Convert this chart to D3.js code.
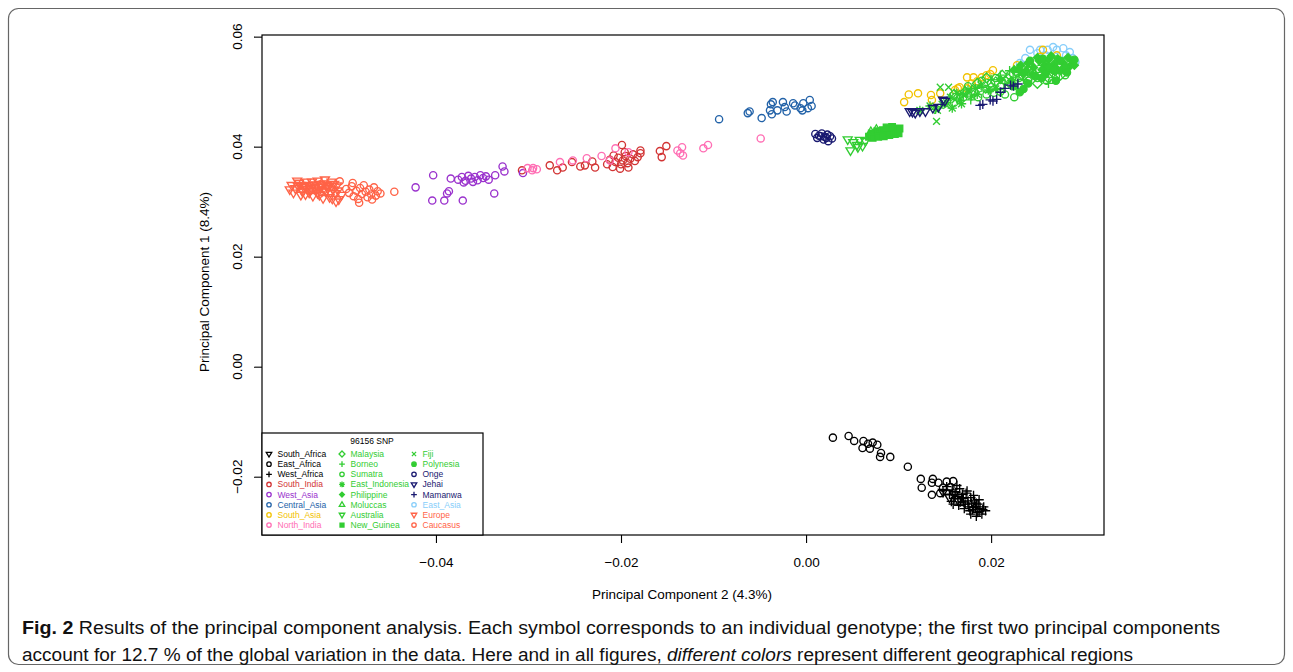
<!DOCTYPE html>
<html>
<head>
<meta charset="utf-8">
<script src="https://cdn.jsdelivr.net/npm/d3@7"></script>
<style>
  body { margin: 0; background: #fff; }
  svg text { font-family: "Liberation Sans", Arial, sans-serif; }
</style>
</head>
<body>
<div id="chart"></div>
<script>
// PC2 (x), PC1 (y) scores, one array per population
const southAfrica = [[0.0148,-0.0228],[0.0155,-0.0238],[0.0160,-0.0232],[0.0165,-0.0245]];
const eastAfrica = [[0.0029,-0.0129],[0.0046,-0.0126],[0.0052,-0.0135],[0.0062,-0.0135],[0.0061,-0.0148],[0.0067,-0.0140],
  [0.0069,-0.0149],[0.0072,-0.0138],[0.0077,-0.0142],[0.0081,-0.0157],[0.0080,-0.0164],[0.0091,-0.0164],[0.0110,-0.0182],
  [0.0124,-0.0204],[0.0125,-0.0220],[0.0136,-0.0211],[0.0136,-0.0233],[0.0137,-0.0204],[0.0143,-0.0211],[0.0152,-0.0209],
  [0.0159,-0.0208],[0.0148,-0.0220],[0.0145,-0.0230],[0.0156,-0.0219]];
const westAfrica = [[0.0148,-0.0225],[0.0152,-0.0218],[0.0155,-0.0232],[0.0158,-0.0224],[0.0160,-0.0240],[0.0162,-0.0228],
  [0.0164,-0.0236],[0.0166,-0.0222],[0.0167,-0.0246],[0.0169,-0.0232],[0.0170,-0.0240],[0.0172,-0.0250],[0.0173,-0.0230],
  [0.0175,-0.0244],[0.0176,-0.0255],[0.0178,-0.0238],[0.0179,-0.0248],[0.0180,-0.0260],[0.0182,-0.0244],[0.0183,-0.0254],
  [0.0185,-0.0265],[0.0186,-0.0250],[0.0188,-0.0258],[0.0190,-0.0268],[0.0192,-0.0255],[0.0194,-0.0262],[0.0165,-0.0252],
  [0.0171,-0.0258],[0.0177,-0.0262],[0.0184,-0.0272],[0.0157,-0.0245],[0.0163,-0.0216],[0.0174,-0.0226],[0.0181,-0.0234],
  [0.0187,-0.0242],[0.0161,-0.0233],[0.0168,-0.0238],[0.0175,-0.0250],[0.0181,-0.0256],[0.0187,-0.0263],[0.0191,-0.0260],
  [0.0178,-0.0268],[0.0170,-0.0246],[0.0159,-0.0250],[0.0184,-0.0248]];
const southIndia = [[-0.0307,0.0357],[-0.0277,0.0366],[-0.0269,0.0357],[-0.0263,0.0362],[-0.0253,0.0372],[-0.0244,0.0364],
  [-0.0231,0.0373],[-0.0228,0.0362],[-0.0239,0.0366],[-0.0215,0.0368],[-0.0212,0.0376],[-0.0209,0.0363],[-0.0206,0.0372],
  [-0.0203,0.0380],[-0.0200,0.0368],[-0.0198,0.0375],[-0.0195,0.0383],[-0.0193,0.0370],[-0.0190,0.0378],[-0.0187,0.0386],
  [-0.0185,0.0374],[-0.0182,0.0381],[-0.0179,0.0388],[-0.0201,0.0360],[-0.0192,0.0362],[-0.0208,0.0384],[-0.0196,0.0390],
  [-0.0199,0.0403],[-0.0179,0.0393],[-0.0158,0.0392],[-0.0151,0.0401],[-0.0156,0.0381]];
const westAsia = [[-0.0422,0.0326],[-0.0403,0.0348],[-0.0384,0.0342],[-0.0404,0.0302],[-0.0391,0.0302],[-0.0388,0.0315],
  [-0.0386,0.0319],[-0.0371,0.0302],[-0.0337,0.0315],[-0.0328,0.0364],[-0.0326,0.0355],[-0.0336,0.0348],[-0.0306,0.0352],
  [-0.0376,0.0340],[-0.0372,0.0345],[-0.0368,0.0338],[-0.0365,0.0347],[-0.0362,0.0342],[-0.0358,0.0345],[-0.0355,0.0339],
  [-0.0352,0.0348],[-0.0349,0.0343],[-0.0346,0.0346],[-0.0343,0.0340],[-0.0370,0.0335],[-0.0360,0.0336]];
const centralAsia = [[-0.0094,0.0450],[-0.0063,0.0461],[-0.0061,0.0464],[-0.0048,0.0452],[-0.0039,0.0466],[-0.0038,0.0477],
  [-0.0031,0.0466],[-0.0025,0.0481],[-0.0023,0.0472],[-0.0021,0.0464],[-0.0014,0.0479],[-0.0012,0.0475],[-0.0006,0.0470],
  [-0.0004,0.0466],[-0.0003,0.0479],[0.0004,0.0485],[0.0006,0.0474],[0.0002,0.0470],[-0.0036,0.0481],[-0.0037,0.0459]];
const southAsia = [[0.0106,0.0481],[0.0111,0.0495],[0.0121,0.0497],[0.0135,0.0494],[0.0136,0.0485],[0.0145,0.0497],
  [0.0164,0.0506],[0.0166,0.0508],[0.0174,0.0506],[0.0179,0.0515],[0.0185,0.0519],[0.0190,0.0526],[0.0195,0.0530],
  [0.0199,0.0532],[0.0202,0.0539],[0.0228,0.0548],[0.0253,0.0563],[0.0256,0.0576],[0.0271,0.0566],[0.0181,0.0526],
  [0.0174,0.0526],[0.0161,0.0503]];
const northIndia = [[-0.0301,0.0361],[-0.0295,0.0361],[-0.0291,0.0359],[-0.0296,0.0357],[-0.0266,0.0372],[-0.0252,0.0375],
  [-0.0237,0.0379],[-0.0221,0.0383],[-0.0206,0.0397],[-0.0139,0.0393],[-0.0134,0.0399],[-0.0136,0.0388],[-0.0133,0.0384],
  [-0.0111,0.0397],[-0.0106,0.0403],[-0.0049,0.0415],[-0.0212,0.0375],[-0.0192,0.0390]];
const malaysia = [[0.0185,0.0515],[0.0195,0.0525],[0.0205,0.0518],[0.0212,0.0530],[0.0218,0.0524],[0.0228,0.0535],
  [0.0235,0.0528],[0.0240,0.0540],[0.0200,0.0508],[0.0222,0.0512],[0.0250,0.0515],[0.0262,0.0525],[0.0275,0.0530],
  [0.0160,0.0495],[0.0172,0.0500]];
const borneo = [[0.0190,0.0508],[0.0200,0.0522],[0.0210,0.0530],[0.0220,0.0538],[0.0230,0.0530],[0.0240,0.0545],
  [0.0248,0.0535],[0.0255,0.0548],[0.0215,0.0515],[0.0235,0.0522],[0.0170,0.0495],[0.0178,0.0485],[0.0262,0.0515],
  [0.0280,0.0540]];
const sumatra = [[0.0175,0.0510],[0.0182,0.0500],[0.0190,0.0520],[0.0195,0.0505],[0.0200,0.0515],[0.0205,0.0525],
  [0.0210,0.0510],[0.0215,0.0520],[0.0220,0.0530],[0.0186,0.0490],[0.0203,0.0498],[0.0225,0.0520],[0.0230,0.0525],
  [0.0240,0.0520],[0.0250,0.0525],[0.0260,0.0520],[0.0270,0.0528],[0.0280,0.0530],[0.0245,0.0535],[0.0265,0.0532],
  [0.0210,0.0500],[0.0195,0.0495],[0.0170,0.0490],[0.0160,0.0480],[0.0215,0.0495],[0.0225,0.0490]];
const eastIndonesia = [[0.0134,0.0474],[0.0147,0.0477],[0.0156,0.0490],[0.0163,0.0497],[0.0170,0.0494],[0.0175,0.0503],
  [0.0183,0.0506],[0.0189,0.0512],[0.0166,0.0485],[0.0179,0.0492],[0.0197,0.0503],[0.0123,0.0466],[0.0140,0.0468],
  [0.0152,0.0480],[0.0158,0.0470],[0.0168,0.0478],[0.0185,0.0495],[0.0205,0.0505]];
const philippine = [[0.0225,0.0540],[0.0232,0.0548],[0.0240,0.0552],[0.0246,0.0544],[0.0252,0.0556],[0.0258,0.0548],
  [0.0262,0.0558],[0.0268,0.0550],[0.0272,0.0560],[0.0278,0.0552],[0.0283,0.0562],[0.0288,0.0555],[0.0238,0.0538],
  [0.0255,0.0540],[0.0270,0.0543],[0.0285,0.0546],[0.0250,0.0562],[0.0265,0.0565],[0.0245,0.0530],[0.0260,0.0535],
  [0.0258,0.0530],[0.0275,0.0538],[0.0290,0.0548],[0.0235,0.0532],[0.0222,0.0520],[0.0210,0.0522]];
const moluccas = [[0.0070,0.0427],[0.0076,0.0431]];
const australia = [[0.0045,0.0413],[0.0048,0.0393],[0.0055,0.0403],[0.0058,0.0412],[0.0064,0.0410],[0.0056,0.0399],
  [0.0051,0.0408],[0.0061,0.0401]];
const newGuinea = [[0.0068,0.0418],[0.0071,0.0424],[0.0074,0.0420],[0.0077,0.0428],[0.0080,0.0422],[0.0083,0.0430],
  [0.0086,0.0425],[0.0089,0.0431],[0.0092,0.0426],[0.0095,0.0432],[0.0098,0.0428],[0.0101,0.0433],[0.0072,0.0416],
  [0.0078,0.0418],[0.0084,0.0419],[0.0090,0.0421],[0.0096,0.0423],[0.0100,0.0424],[0.0087,0.0435],[0.0093,0.0436]];
const fiji = [[0.0145,0.0508],[0.0154,0.0508],[0.0142,0.0466],[0.0152,0.0475],[0.0141,0.0446],[0.0161,0.0485],[0.0172,0.0494]];
const polynesia = [[0.0230,0.0540],[0.0242,0.0556],[0.0256,0.0560],[0.0262,0.0545],[0.0275,0.0556],[0.0280,0.0545],
  [0.0290,0.0558],[0.0248,0.0528],[0.0268,0.0538],[0.0235,0.0505],[0.0231,0.0499],[0.0255,0.0525],[0.0270,0.0520],
  [0.0282,0.0535],[0.0240,0.0515],[0.0225,0.0510]];
const onge = [[0.0010,0.0423],[0.0014,0.0420],[0.0017,0.0424],[0.0020,0.0418],[0.0023,0.0422],[0.0026,0.0419],
  [0.0012,0.0416],[0.0019,0.0413],[0.0024,0.0410],[0.0028,0.0415],[0.0016,0.0419],[0.0022,0.0416]];
const jehai = [[0.0115,0.0463],[0.0118,0.0461],[0.0123,0.0464],[0.0129,0.0464],[0.0137,0.0470],[0.0143,0.0472],
  [0.0148,0.0485],[0.0150,0.0483],[0.0112,0.0464]];
const mamanwa = [[0.0188,0.0475],[0.0191,0.0477],[0.0199,0.0485],[0.0202,0.0483],[0.0206,0.0486],[0.0210,0.0499],
  [0.0215,0.0506],[0.0221,0.0512],[0.0224,0.0510],[0.0229,0.0514]];
const eastAsia = [[0.0237,0.0561],[0.0242,0.0576],[0.0253,0.0576],[0.0261,0.0576],[0.0271,0.0576],[0.0278,0.0579],
  [0.0285,0.0572],[0.0291,0.0554],[0.0288,0.0561],[0.0267,0.0581],[0.0250,0.0570],[0.0231,0.0552],[0.0281,0.0566],
  [0.0259,0.0566]];
const europe = [[-0.0556,0.0330],[-0.0552,0.0324],[-0.0548,0.0334],[-0.0545,0.0320],[-0.0542,0.0328],[-0.0540,0.0336],
  [-0.0537,0.0316],[-0.0535,0.0325],[-0.0532,0.0331],[-0.0530,0.0320],[-0.0528,0.0338],[-0.0526,0.0312],[-0.0524,0.0327],
  [-0.0521,0.0333],[-0.0519,0.0318],[-0.0517,0.0324],[-0.0515,0.0308],[-0.0513,0.0336],[-0.0511,0.0322],[-0.0509,0.0315],
  [-0.0507,0.0329],[-0.0505,0.0304],[-0.0554,0.0316],[-0.0550,0.0338],[-0.0546,0.0312],[-0.0538,0.0330],[-0.0533,0.0310],
  [-0.0527,0.0322],[-0.0522,0.0306],[-0.0518,0.0330],[-0.0514,0.0316],[-0.0510,0.0332],[-0.0506,0.0320],[-0.0502,0.0312],
  [-0.0543,0.0326],[-0.0536,0.0320],[-0.0529,0.0329],[-0.0523,0.0319],[-0.0516,0.0327],[-0.0508,0.0300],[-0.0558,0.0322],
  [-0.0549,0.0328],[-0.0534,0.0336],[-0.0520,0.0340],[-0.0512,0.0305],[-0.0544,0.0318],[-0.0539,0.0323],[-0.0531,0.0326],
  [-0.0525,0.0332],[-0.0520,0.0322],[-0.0513,0.0328],[-0.0541,0.0313],[-0.0528,0.0315],[-0.0547,0.0330]];
const caucasus = [[-0.0504,0.0337],[-0.0497,0.0323],[-0.0494,0.0316],[-0.0491,0.0328],[-0.0489,0.0310],[-0.0486,0.0320],
  [-0.0484,0.0305],[-0.0482,0.0325],[-0.0480,0.0314],[-0.0478,0.0330],[-0.0476,0.0318],[-0.0474,0.0308],[-0.0472,0.0322],
  [-0.0470,0.0313],[-0.0467,0.0326],[-0.0465,0.0311],[-0.0463,0.0319],[-0.0460,0.0315],[-0.0483,0.0298],[-0.0445,0.0318],
  [-0.0490,0.0334],[-0.0469,0.0304]];

const xTicks = [-0.04, -0.02, 0.00, 0.02];
const yTicks = [-0.02, 0.00, 0.02, 0.04, 0.06];

// legend order (3 columns of 8), colour and symbol per population
const groups = [
  {name: "South_Africa", color: "#000000", shape: "triDown", pts: southAfrica},
  {name: "East_Africa", color: "#000000", shape: "circle", pts: eastAfrica},
  {name: "West_Africa", color: "#000000", shape: "plus", pts: westAfrica},
  {name: "South_India", color: "#d23434", shape: "circle", pts: southIndia},
  {name: "West_Asia", color: "#9a32cd", shape: "circle", pts: westAsia},
  {name: "Central_Asia", color: "#2262a8", shape: "circle", pts: centralAsia},
  {name: "South_Asia", color: "#f2c200", shape: "circle", pts: southAsia},
  {name: "North_India", color: "#ff6eb4", shape: "circle", pts: northIndia},
  {name: "Malaysia", color: "#32cd32", shape: "diamond", pts: malaysia},
  {name: "Borneo", color: "#32cd32", shape: "plus", pts: borneo},
  {name: "Sumatra", color: "#32cd32", shape: "circle", pts: sumatra},
  {name: "East_Indonesia", color: "#32cd32", shape: "asterisk", pts: eastIndonesia},
  {name: "Philippine", color: "#32cd32", shape: "fdiamond", pts: philippine},
  {name: "Moluccas", color: "#32cd32", shape: "triUp", pts: moluccas},
  {name: "Australia", color: "#32cd32", shape: "triDown", pts: australia},
  {name: "New_Guinea", color: "#32cd32", shape: "square", pts: newGuinea},
  {name: "Fiji", color: "#32cd32", shape: "x", pts: fiji},
  {name: "Polynesia", color: "#32cd32", shape: "dot", pts: polynesia},
  {name: "Onge", color: "#191970", shape: "circle", pts: onge},
  {name: "Jehai", color: "#191970", shape: "triDown", pts: jehai},
  {name: "Mamanwa", color: "#191970", shape: "plus", pts: mamanwa},
  {name: "East_Asia", color: "#87cefa", shape: "circle", pts: eastAsia},
  {name: "Europe", color: "#ff6347", shape: "triDown", pts: europe},
  {name: "Caucasus", color: "#ff6347", shape: "circle", pts: caucasus}
];

const W = 1293, H = 672;
const plot = {left: 262, right: 1104, top: 35, bottom: 535};

const svg = d3.select("#chart").append("svg")
  .attr("width", W).attr("height", H);

// outer figure border
svg.append("rect")
  .attr("x", 8.5).attr("y", 8.5).attr("width", W - 17).attr("height", H - 16)
  .attr("rx", 10).attr("fill", "none").attr("stroke", "#666").attr("stroke-width", 1.2);

const x = d3.scaleLinear().domain([-0.0588, 0.0322]).range([plot.left, plot.right]);
const y = d3.scaleLinear().domain([-0.0306, 0.0603]).range([plot.bottom, plot.top]);

const fmt = v => d3.format(".2f")(v).replace("-", "\u2212");

function symbolPath(shape, s) {
  switch (shape) {
    case "circle":
    case "dot":
      return `M${s},0A${s},${s} 0 1,1 ${-s},0A${s},${s} 0 1,1 ${s},0Z`;
    case "triDown":
      return `M${-s * 1.25},${-s * 0.75}L${s * 1.25},${-s * 0.75}L0,${s * 1.35}Z`;
    case "triUp":
      return `M${-s * 1.25},${s * 0.75}L${s * 1.25},${s * 0.75}L0,${-s * 1.35}Z`;
    case "plus":
      return `M${-s * 1.3},0H${s * 1.3}M0,${-s * 1.3}V${s * 1.3}`;
    case "x": {
      const d = s * 0.95;
      return `M${-d},${-d}L${d},${d}M${-d},${d}L${d},${-d}`;
    }
    case "asterisk": {
      const d = s * 0.95;
      return `M${-s * 1.3},0H${s * 1.3}M0,${-s * 1.3}V${s * 1.3}M${-d},${-d}L${d},${d}M${-d},${d}L${d},${-d}`;
    }
    case "diamond":
      return `M0,${-s * 1.35}L${s * 1.35},0L0,${s * 1.35}L${-s * 1.35},0Z`;
    case "fdiamond":
      return `M0,${-s * 1.1}L${s * 1.1},0L0,${s * 1.1}L${-s * 1.1},0Z`;
    case "square":
      return `M${-s * 0.9},${-s * 0.9}H${s * 0.9}V${s * 0.9}H${-s * 0.9}Z`;
  }
}
const filled = shape => shape === "dot" || shape === "fdiamond" || shape === "square";

// points: East_Asia first so the green clusters cover it
const drawOrder = groups.filter(g => g.name === "East_Asia")
  .concat(groups.filter(g => g.name !== "East_Asia"));

const pointsG = svg.append("g");
drawOrder.forEach(g => {
  pointsG.selectAll(null)
    .data(g.pts)
    .enter()
    .append("path")
    .attr("transform", d => `translate(${x(d[0])},${y(d[1])})`)
    .attr("d", symbolPath(g.shape, 3.6))
    .attr("fill", filled(g.shape) ? g.color : "none")
    .attr("stroke", g.color)
    .attr("stroke-width", 1.35);
});

// frame
svg.append("rect")
  .attr("x", plot.left).attr("y", plot.top)
  .attr("width", plot.right - plot.left).attr("height", plot.bottom - plot.top)
  .attr("fill", "none").attr("stroke", "#000").attr("stroke-width", 1.2);

// x axis
const xAxis = svg.append("g")
  .attr("transform", `translate(0,${plot.bottom})`)
  .call(d3.axisBottom(x).tickValues(xTicks).tickSize(8).tickPadding(14).tickFormat(fmt));
xAxis.select(".domain").remove();
xAxis.selectAll("line").attr("stroke", "#000").attr("stroke-width", 1.1);
xAxis.selectAll("text").attr("font-size", "13.5px").attr("fill", "#000")
  .attr("font-family", "'Liberation Sans', Arial, sans-serif");

// y axis, labels parallel to the axis
const yAxis = svg.append("g")
  .attr("transform", `translate(${plot.left},0)`)
  .call(d3.axisLeft(y).tickValues(yTicks).tickSize(8).tickFormat(""));
yAxis.select(".domain").remove();
yAxis.selectAll("line").attr("stroke", "#000").attr("stroke-width", 1.1);

svg.append("g").selectAll("text")
  .data(yTicks)
  .enter()
  .append("text")
  .attr("transform", d => `translate(${plot.left - 20},${y(d)}) rotate(-90)`)
  .attr("text-anchor", "middle")
  .attr("font-size", "13.5px")
  .text(fmt);

svg.append("text")
  .attr("x", (x(-0.0588) + x(0.0322)) / 2 - 1)
  .attr("y", 599)
  .attr("text-anchor", "middle")
  .attr("font-size", "13.5px")
  .text("Principal Component 2 (4.3%)");

svg.append("text")
  .attr("transform", `translate(209,${(plot.top + plot.bottom) / 2 - 3}) rotate(-90)`)
  .attr("text-anchor", "middle")
  .attr("font-size", "13.5px")
  .text("Principal Component 1 (8.4%)");

// legend (bottom left, inside the frame)
const leg = {left: plot.left, top: 433, right: 483, bottom: plot.bottom};
svg.append("rect")
  .attr("x", leg.left).attr("y", leg.top)
  .attr("width", leg.right - leg.left).attr("height", leg.bottom - leg.top)
  .attr("fill", "#fff").attr("stroke", "#000").attr("stroke-width", 1.2);
svg.append("text")
  .attr("x", 372).attr("y", 443.5)
  .attr("text-anchor", "middle")
  .attr("font-size", "8.5px")
  .text("96156 SNP");

const colX = [269, 342, 414];
const rowY0 = 454, rowStep = 10.15;
groups.forEach((g, i) => {
  const c = Math.floor(i / 8), r = i % 8;
  const cy = rowY0 + r * rowStep;
  svg.append("path")
    .attr("transform", `translate(${colX[c]},${cy})`)
    .attr("d", symbolPath(g.shape, 2.2))
    .attr("fill", filled(g.shape) ? g.color : "none")
    .attr("stroke", g.color)
    .attr("stroke-width", 1.3);
  svg.append("text")
    .attr("x", colX[c] + 8.5).attr("y", cy + 3)
    .attr("font-size", "8.5px")
    .attr("fill", g.color)
    .text(g.name);
});

// caption
const capFont = "'Liberation Sans Narrow', 'DejaVu Sans Condensed', 'Liberation Sans', sans-serif";
const cap1 = svg.append("text")
  .attr("x", 22).attr("y", 634)
  .attr("font-size", "17.5px")
  .attr("font-family", capFont)
  .attr("fill", "#111")
  .attr("textLength", 1198)
  .attr("lengthAdjust", "spacingAndGlyphs");
cap1.append("tspan").attr("font-weight", "bold").text("Fig. 2");
cap1.append("tspan").text(" Results of the principal component analysis. Each symbol corresponds to an individual genotype; the first two principal components");

const cap2 = svg.append("text")
  .attr("x", 22).attr("y", 661)
  .attr("font-size", "17.5px")
  .attr("font-family", capFont)
  .attr("fill", "#111")
  .attr("textLength", 1111)
  .attr("lengthAdjust", "spacingAndGlyphs");
cap2.append("tspan").text("account for 12.7 % of the global variation in the data. Here and in all figures, ");
cap2.append("tspan").attr("font-style", "italic").text("different colors");
cap2.append("tspan").text(" represent different geographical regions");
</script>
</body>
</html>
